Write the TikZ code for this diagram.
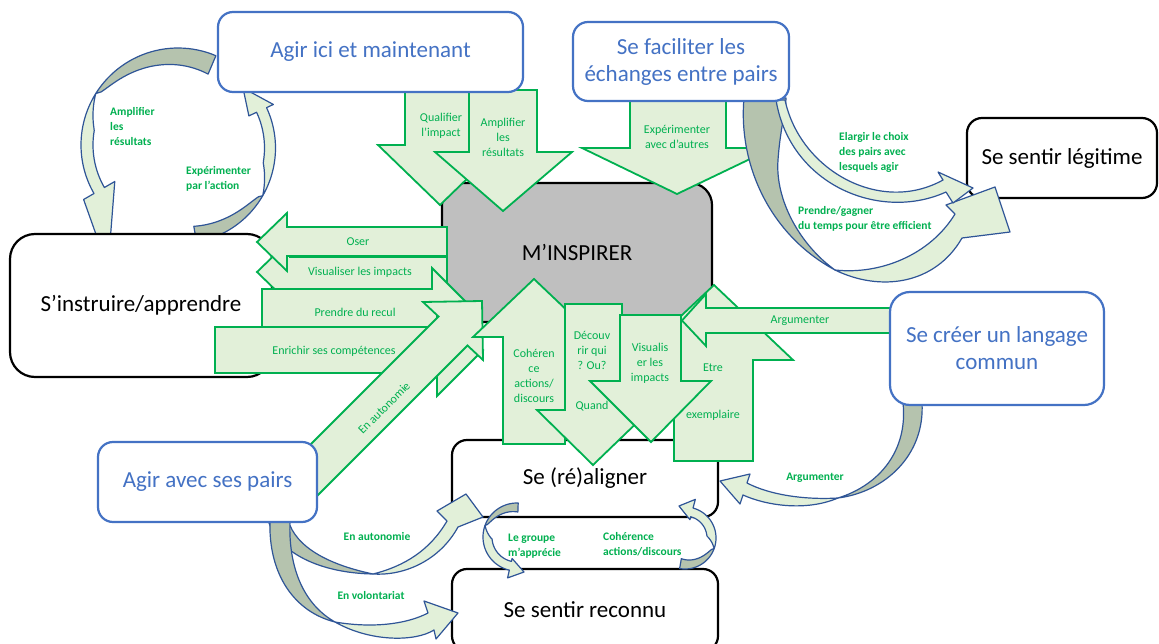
\documentclass[tikz,border=0pt]{standalone}
\usepackage{fontspec}
\setmainfont{Carlito}
\definecolor{gfill}{HTML}{E2F0D9}
\definecolor{gline}{HTML}{00B050}
\definecolor{bblue}{HTML}{4472C4}
\definecolor{cline}{HTML}{2F5597}
\definecolor{cbackcol}{HTML}{B5C3AE}
\definecolor{mgray}{HTML}{BFBFBF}
\tikzset{
 box/.style={rounded corners=15pt, line width=2.2pt, fill=white, align=center, font=\fontsize{23}{27}\selectfont, inner sep=0pt},
 bluebox/.style={box, draw=bblue, text=bblue},
 blackbox/.style={box, draw=black, text=black},
 garrow/.style={fill=gfill, draw=gline, line width=1.8pt, line join=miter, miter limit=10},
 gtext/.style={text=gline, font=\fontsize{12}{15}\selectfont, align=center, inner sep=0pt},
 ctext/.style={text=gline, font=\bfseries\fontsize{11.5}{15}\selectfont, align=left, inner sep=0pt, anchor=west},
 cfront/.style={fill=gfill, draw=cline, line width=1.2pt, line join=round},
 cbackst/.style={fill=cbackcol, draw=cline, line width=1.2pt, line join=round},
}
\pgfkeys{/carr/.cd,
 cx/.store in=\cacx, cy/.store in=\cacy, R/.store in=\caR, w/.store in=\caw, g/.store in=\cag,
 t0/.store in=\catz, tm/.store in=\catm, t2/.store in=\catt, L/.store in=\caL,
 wo/.store in=\cawo, wi/.store in=\cawi, tipx/.store in=\catipx, tipy/.store in=\catipy}
\newcommand\circarrow[1]{%
 \pgfkeys{/carr/.cd,#1}%
 \filldraw[cbackst] plot[domain=\catz:\catm,samples=30] ({\cacx+\caR*cos(\x)},{\cacy+\caR*sin(\x)})
   -- plot[domain=\catm:\catz,samples=30] ({\cacx+(\caR-\cag*sqrt((\x-\catm)/(\catz-\catm)))*cos(\x)},{\cacy+(\caR-\cag*sqrt((\x-\catm)/(\catz-\catm)))*sin(\x)}) -- cycle;
 \filldraw[cfront] plot[domain=\catm:\catt,samples=40] ({\cacx+\caR*cos(\x)},{\cacy+\caR*sin(\x)})
   -- ({\cacx+\cawo*cos(\catt)},{\cacy+\cawo*sin(\catt)}) -- (\catipx,\catipy) -- ({\cacx+\cawi*cos(\catt)},{\cacy+\cawi*sin(\catt)})
   -- plot[domain=\catt:\catm,samples=40] ({\cacx+(\caR-\caw*min(1,(\x-\catm)/(\caL)))*cos(\x)},{\cacy+(\caR-\caw*min(1,(\x-\catm)/(\caL)))*sin(\x)}) -- cycle;
}
\begin{document}
\begin{tikzpicture}[x=1pt,y=-1pt]
\useasboundingbox (0,0) rectangle (1159,644);
\fill[white] (0,0) rectangle (1159,644);

% boxes underneath
\node[blackbox, fill=mgray, rounded corners=22pt, minimum width=270pt, minimum height=139pt] (minspirer) at (577,252.5) {M’INSPIRER};
\node[blackbox, minimum width=266pt, minimum height=77pt] (realigner) at (585,478.5) {Se (ré)aligner};
\node[blackbox, minimum width=266pt, minimum height=82pt] (reconnu) at (585,610) {Se sentir reconnu};
\node[blackbox, minimum width=190pt, minimum height=80pt] (legitime) at (1062,158) {Se sentir légitime};

% top-left loop
\circarrow{cx=178,cy=145,R=97,w=12,g=20,t0=293,tm=212,t2=150,L=-22,wo=109,wi=73,tipx=108,tipy=268}
\circarrow{cx=180,cy=148,R=95.5,w=11,g=16,t0=80,tm=30,t2=-25,L=-20,wo=103,wi=76,tipx=243,tipy=88}
\node[blackbox, rounded corners=25pt, minimum width=262pt, minimum height=143pt] (instruire) at (141,305.5) {S’instruire/apprendre};

% arrows from the top
\draw[garrow] (405,90) -- (469,90) -- (469,145) -- (502,145) -- (440,205) -- (378,145) -- (405,145) -- cycle;
\draw[garrow] (469,90) -- (537,90) -- (537,152) -- (572,152) -- (503,211) -- (435,152) -- (469,152) -- cycle;
\draw[garrow] (630,99) -- (726,99) -- (726,148) -- (773,148) -- (677,194) -- (582,148) -- (630,148) -- cycle;
\node[gtext] (tqual) at (441,126) {Qualifier\\l’impact};
\node[gtext] (tampl) at (503,137) {Amplifier\\les\\résultats};
\node[gtext] (texpa) at (677,137) {Expérimenter\\avec d’autres};

% curved arrows towards "Se sentir légitime"
\filldraw[cbackst] (744,98) .. controls (738,165) and (770,235) .. (835,270) .. controls (800,245) and (775,200) .. (778,160) .. controls (780,130) and (786,110) .. (786,98) -- cycle;
\filldraw[cfront] (835,270) .. controls (880,292) and (935,285) .. (962,238) -- (1010,232) -- (995,187) -- (946,205) -- (955,214) .. controls (930,255) and (880,275) .. (835,270) -- cycle;
\filldraw[cfront] (785,100) .. controls (800,170) and (880,215) .. (943,180) -- (938,172) -- (973,188) -- (953,203) -- (946,192) .. controls (880,222) and (790,185) .. (776,100) -- cycle;

\node[bluebox, minimum width=305pt, minimum height=80pt] (agirici) at (370.5,52) {Agir ici et maintenant};
\node[bluebox, minimum width=216pt, minimum height=79pt] (faciliter) at (681,61.5) {Se faciliter les\\échanges entre pairs};

% arrows on the left
\draw[garrow] (447,257) -- (290,257) -- (290,240) -- (257,272) -- (290,304) -- (290,289) -- (447,289) -- cycle;
\draw[garrow] (447,227) -- (287,227) -- (287,213) -- (257,242) -- (287,271) -- (287,256) -- (447,256) -- cycle;
\draw[garrow] (262,289) -- (432,289) -- (432,268) -- (472,308) -- (432,348) -- (432,327) -- (262,327) -- cycle;
\draw[garrow] (215,327) -- (437,327) -- (437,304) -- (483,350) -- (437,396) -- (437,373) -- (215,373) -- cycle;
\node[gtext] (toser) at (358,242) {Oser};
\node[gtext] (tvis1) at (360,272) {Visualiser les impacts};
\node[gtext] (trecul) at (355,312) {Prendre du recul};
\node[gtext] (tenr) at (334,351) {Enrichir ses compétences};
\draw[garrow] (278,477) -- (438.5,316.5) -- (423,302) -- (482,301) -- (483,360) -- (467.5,345.5) -- (307,506) -- cycle;
\node[gtext, rotate=45] (tauto) at (384,408) {En autonomie};

% arrows at the bottom of M'INSPIRER
\draw[garrow] (503,444) -- (565,444) -- (565,337) -- (595,337) -- (534,279) -- (473,337) -- (503,337) -- cycle;
\draw[garrow] (565,304) -- (622,304) -- (622,410) -- (650,410) -- (593,465) -- (537,410) -- (565,410) -- cycle;
\draw[garrow] (674,461) -- (753,461) -- (753,360) -- (793,360) -- (714,285) -- (634,360) -- (674,360) -- cycle;
\draw[garrow] (620,315) -- (681,315) -- (681,381) -- (711,381) -- (651,442) -- (590,381) -- (620,381) -- cycle;
\draw[garrow] (900,308) -- (706,308) -- (706,294) -- (682,320.5) -- (706,346) -- (706,333) -- (900,333) -- cycle;
\node[gtext] (tcoh) at (534,375.5) {Cohéren\\ce\\actions/\\discours};
\node[gtext] (tdec) at (592,371) {Découv\\rir qui\\? Ou?\\[25pt]Quand};
\node[gtext] (tvis2) at (650,363) {Visualis\\er les\\impacts};
\node[gtext] (tetre) at (713,392.5) {Etre\\[32pt]exemplaire};
\node[gtext] (targ1) at (800,321) {Argumenter};

% lower curved arrows
\filldraw[cbackst] (903,403) .. controls (908,450) and (880,485) .. (838,498) .. controls (885,492) and (925,455) .. (922,403) -- cycle;
\filldraw[cfront] (838,498) .. controls (805,512) and (765,505) .. (743,495) -- (740,504) -- (720,481) -- (750,474) -- (747,483) .. controls (770,495) and (805,500) .. (838,498) -- cycle;
\filldraw[cbackst] (268,520) .. controls (278,553) and (320,573) .. (373,574) .. controls (330,565) and (296,548) .. (288,520) -- cycle;
\filldraw[cfront] (373,574) .. controls (405,576) and (440,560) .. (458,527) -- (483,517) -- (466,494) -- (437,511) -- (447,521) .. controls (430,550) and (405,566) .. (373,574) -- cycle;
\filldraw[cbackst] (270,520) .. controls (268,575) and (295,612) .. (335,622) .. controls (305,605) and (288,570) .. (290,520) -- cycle;
\filldraw[cfront] (335,622) .. controls (370,642) and (415,642) .. (434,630) -- (436,639) -- (458,613) -- (424,601) -- (428,613) .. controls (405,625) and (370,628) .. (335,622) -- cycle;
\circarrow{cx=517,cy=537,R=34,w=9,g=9,t0=272,tm=200,t2=103,L=-25,wo=42,wi=22,tipx=524,tipy=572}
\circarrow{cx=685,cy=538,R=31,w=9,g=10,t0=100,tm=20,t2=-75,L=-25,wo=40,wi=19,tipx=679,tipy=506}

\node[bluebox, rounded corners=20pt, minimum width=214pt, minimum height=113pt] (creer) at (997,348.5) {Se créer un langage\\commun};
\node[bluebox, minimum width=219pt, minimum height=80pt] (agiravec) at (207.5,482) {Agir avec ses pairs};

% labels of the curved arrows
\node[ctext] (lampl) at (110,127) {Amplifier\\les\\résultats};
\node[ctext] (lexpe) at (186,178.5) {Expérimenter\\par l’action};
\node[ctext] (lelar) at (839,152) {Elargir le choix\\des pairs avec\\lesquels agir};
\node[ctext] (lpren) at (798,218.5) {Prendre/gagner\\du temps pour être efficient};
\node[ctext, anchor=center] (larg2) at (815,478) {Argumenter};
\node[ctext, anchor=center] (lauto) at (377,537) {En autonomie};
\node[ctext, anchor=center] (lvolo) at (371,596) {En volontariat};
\node[ctext] (lgrou) at (508,546.5) {Le groupe\\m’apprécie};
\node[ctext] (lcohe) at (603,544) {Cohérence\\actions/discours};
\end{tikzpicture}
\end{document}
